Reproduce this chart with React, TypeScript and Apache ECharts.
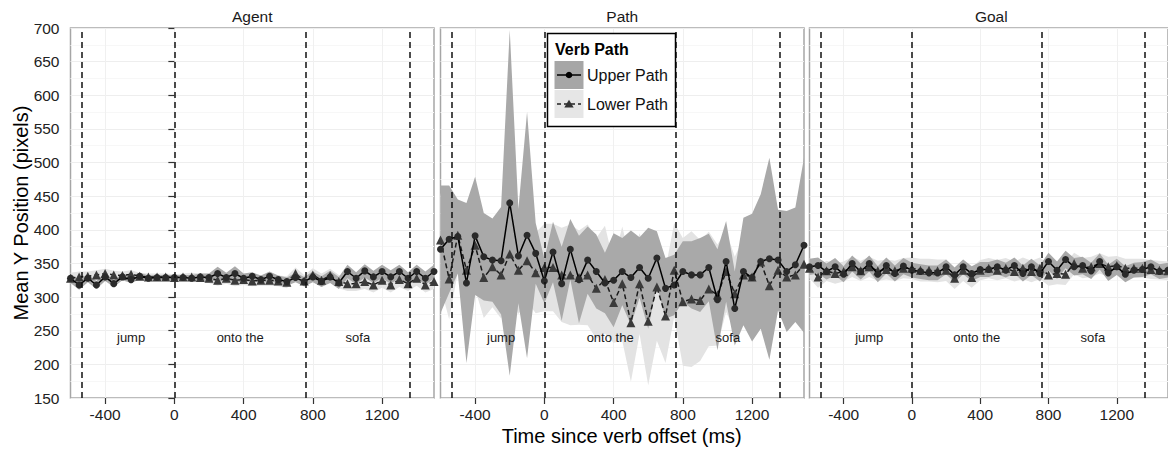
import React, { useEffect, useRef } from 'react';
import * as echarts from 'echarts';

// ---------------- data ----------------
const times = [-600, -550, -500, -450, -400, -350, -300, -250, -200, -150, -100, -50, 0, 50, 100, 150, 200, 250, 300, 350, 400, 450, 500, 550, 600, 650, 700, 750, 800, 850, 900, 950, 1000, 1050, 1100, 1150, 1200, 1250, 1300, 1350, 1400, 1450, 1500];

const panelNames = ['Agent', 'Path', 'Goal'];
const seriesNames = ['Upper Path', 'Lower Path'];

const agentUpperMean = [328, 318, 328, 318, 330, 320, 330, 326, 331, 328, 329, 329, 329, 329, 328, 330, 329, 335, 329, 335, 328, 331, 326, 331, 326, 323, 329, 323, 330, 323, 330, 321, 338, 328, 339, 330, 338, 330, 338, 328, 338, 328, 338];
const agentUpperCI = [7, 7, 6, 6, 6, 5, 5, 5, 5, 4, 4, 4, 4, 4, 5, 5, 6, 10, 7, 11, 7, 6, 6, 7, 6, 6, 7, 7, 8, 8, 9, 9, 10, 9, 10, 9, 10, 10, 10, 9, 10, 10, 10];
const agentLowerMean = [328, 330, 331, 333, 335, 333, 332, 334, 331, 330, 330, 330, 329, 330, 330, 329, 328, 325, 328, 325, 326, 324, 325, 325, 324, 322, 335, 324, 333, 325, 332, 323, 320, 320, 323, 318, 325, 318, 326, 320, 328, 318, 323];
const agentLowerCI = [8, 8, 7, 7, 7, 6, 6, 6, 5, 5, 5, 5, 5, 5, 6, 6, 7, 8, 8, 9, 8, 8, 8, 8, 8, 9, 9, 9, 10, 10, 10, 10, 11, 11, 11, 11, 11, 11, 11, 11, 11, 11, 11];

const pathUpperMean = [371, 386, 390, 321, 391, 360, 355, 354, 440, 361, 392, 365, 324, 367, 320, 371, 326, 355, 338, 321, 325, 338, 329, 344, 328, 358, 313, 318, 338, 333, 333, 344, 296, 353, 283, 338, 329, 353, 357, 355, 338, 348, 377];
const pathUpperCI = [95, 80, 55, 119, 88, 65, 62, 80, 257, 70, 183, 45, 33, 45, 55, 45, 65, 50, 55, 45, 70, 50, 70, 45, 75, 40, 45, 45, 45, 50, 55, 50, 75, 60, 55, 80, 95, 100, 150, 75, 90, 85, 130];
const pathLowerMean = [385, 327, 392, 340, 377, 329, 345, 333, 364, 340, 354, 336, 344, 344, 333, 333, 329, 333, 313, 326, 292, 320, 262, 320, 264, 315, 272, 340, 293, 297, 295, 312, 303, 338, 305, 333, 330, 352, 317, 340, 330, 333, 349];
const pathLowerCI = [70, 60, 55, 60, 65, 60, 60, 65, 60, 65, 60, 60, 65, 65, 70, 75, 70, 75, 75, 80, 60, 85, 88, 75, 95, 80, 70, 70, 95, 101, 90, 85, 75, 60, 55, 55, 50, 55, 50, 55, 50, 50, 50];

const goalUpperMean = [345, 347, 338, 345, 334, 350, 338, 350, 334, 347, 335, 346, 340, 338, 336, 336, 345, 333, 345, 335, 341, 341, 345, 340, 347, 335, 345, 335, 353, 340, 356, 345, 347, 339, 353, 336, 345, 334, 340, 341, 345, 338, 340];
const goalUpperCI = [12, 12, 12, 13, 12, 12, 12, 12, 12, 12, 12, 12, 11, 11, 11, 11, 11, 11, 11, 11, 11, 11, 11, 11, 12, 12, 12, 12, 13, 13, 13, 13, 13, 12, 12, 12, 12, 12, 11, 11, 11, 11, 11];
const goalLowerMean = [343, 330, 339, 335, 338, 345, 339, 345, 339, 341, 339, 343, 343, 340, 340, 339, 340, 328, 340, 329, 340, 343, 340, 343, 338, 343, 338, 343, 333, 335, 334, 350, 343, 345, 350, 345, 347, 343, 343, 343, 341, 340, 339];
const goalLowerCI = [15, 16, 15, 15, 15, 15, 15, 15, 15, 15, 15, 15, 16, 17, 17, 17, 16, 16, 16, 15, 15, 15, 15, 15, 15, 16, 16, 16, 16, 16, 16, 16, 15, 15, 15, 15, 14, 14, 14, 14, 14, 14, 14];

const vLines = [-535, 0, 760, 1362];
const wordLabels = ['jump', 'onto the', 'sofa'];
const wordX = [-250, 380, 1060];
const wordY = 240;
const xTicks = [-400, 0, 400, 800, 1200];

// ---------------- layout / style ----------------
const FONT = '"Liberation Sans", Arial, Helvetica, sans-serif';
const GRID_LEFT = [70.5, 440.5, 809.5];
const GRID_W = 363.5;
const GRID_TOP = 28;
const GRID_H = 370;
const DARK = '#a9a9a9';
const LIGHT = '#e3e3e3';

const panels = [
  { upper: agentUpperMean, upperCI: agentUpperCI, lower: agentLowerMean, lowerCI: agentLowerCI },
  { upper: pathUpperMean, upperCI: pathUpperCI, lower: pathLowerMean, lowerCI: pathLowerCI },
  { upper: goalUpperMean, upperCI: goalUpperCI, lower: goalLowerMean, lowerCI: goalLowerCI },
];

function ribbon(i: number, mean: number[], ci: number[], color: string) {
  return {
    type: 'custom',
    xAxisIndex: i,
    yAxisIndex: i,
    silent: true,
    z: 1,
    data: [[0, 400]],
    renderItem: (_params: any, api: any) => {
      const pts: number[][] = [];
      for (let k = 0; k < times.length; k++) pts.push(api.coord([times[k], Math.min(700, mean[k] + ci[k])]));
      for (let k = times.length - 1; k >= 0; k--) pts.push(api.coord([times[k], Math.max(150, mean[k] - ci[k])]));
      return { type: 'polygon', shape: { points: pts }, style: { fill: color } };
    },
  };
}

export default function App() {
  const ref = useRef<HTMLDivElement>(null);

  useEffect(() => {
    if (!ref.current) return;
    const chart = echarts.init(ref.current, undefined, { renderer: 'svg' });

    const series: any[] = [];
    panels.forEach((p, i) => {
      series.push(ribbon(i, p.lower, p.lowerCI, LIGHT));
      series.push(ribbon(i, p.upper, p.upperCI, DARK));
      series.push({
        type: 'line',
        name: seriesNames[1],
        xAxisIndex: i,
        yAxisIndex: i,
        data: times.map((t, k) => [t, p.lower[k]]),
        symbol: 'triangle',
        symbolSize: 9,
        itemStyle: { color: '#3a3a3a' },
        lineStyle: { color: '#1a1a1a', width: 1.5, type: [5, 3] },
        z: 3,
        silent: true,
      });
      series.push({
        type: 'line',
        name: seriesNames[0],
        xAxisIndex: i,
        yAxisIndex: i,
        data: times.map((t, k) => [t, p.upper[k]]),
        symbol: 'circle',
        symbolSize: 7,
        itemStyle: { color: '#2a2a2a' },
        lineStyle: { color: '#000', width: 1.5 },
        z: 4,
        silent: true,
        markLine: {
          silent: true,
          symbol: ['none', 'none'],
          label: { show: false },
          lineStyle: { color: '#111', type: [6, 4], width: 1.5 },
          data: vLines.map((v) => ({ xAxis: v })),
        },
      });
      series.push({
        type: 'scatter',
        xAxisIndex: i,
        yAxisIndex: i,
        symbolSize: 1,
        silent: true,
        z: 5,
        itemStyle: { color: 'rgba(0,0,0,0)' },
        label: {
          show: true,
          position: 'inside',
          formatter: '{b}',
          fontSize: 13,
          fontFamily: FONT,
          color: '#1a1a1a',
          opacity: 1,
        },
        data: wordX.map((x, k) => ({ name: wordLabels[k], value: [x, wordY] })),
      });
    });

    const txt = (text: string, x: number, y: number, size: number, extra: any = {}) => ({
      type: 'text',
      x,
      y,
      z: 10,
      silent: true,
      ...extra,
      style: {
        text,
        fill: extra.fill || '#1a1a1a',
        fontSize: size,
        fontFamily: FONT,
        fontWeight: extra.fontWeight || 'normal',
        align: extra.align || 'center',
        textAlign: extra.align || 'center',
        verticalAlign: 'middle',
        textVerticalAlign: 'middle',
      },
    });

    const graphic: any[] = [];
    panelNames.forEach((n, i) => {
      graphic.push(txt(n, GRID_LEFT[i] + GRID_W / 2, 16.5, 15.5));
    });
    graphic.push(txt('Mean Y Position (pixels)', 20.5, 213, 20, { rotation: Math.PI / 2, fill: '#000' }));
    graphic.push(txt('Time since verb offset (ms)', 621.7, 436, 20, { fill: '#000' }));

    // legend
    graphic.push({ type: 'rect', z: 10, silent: true, shape: { x: 547.5, y: 33.5, width: 128, height: 93 }, style: { fill: '#fff', stroke: '#000', lineWidth: 1.5 } });
    graphic.push(txt('Verb Path', 555, 49.5, 16, { align: 'left', fontWeight: 'bold', fill: '#000' }));
    graphic.push({ type: 'rect', z: 10, silent: true, shape: { x: 554.5, y: 61, width: 29, height: 28 }, style: { fill: '#a6a6a6' } });
    graphic.push({ type: 'rect', z: 10, silent: true, shape: { x: 554.5, y: 90, width: 29, height: 28 }, style: { fill: '#e6e6e6' } });
    graphic.push({ type: 'line', z: 11, silent: true, shape: { x1: 557, y1: 75, x2: 581, y2: 75 }, style: { stroke: '#000', lineWidth: 1.5 } });
    graphic.push({ type: 'circle', z: 11, silent: true, shape: { cx: 569, cy: 75, r: 3.3 }, style: { fill: '#000' } });
    graphic.push({ type: 'line', z: 11, silent: true, shape: { x1: 557, y1: 104, x2: 581, y2: 104 }, style: { stroke: '#222', lineWidth: 1.5, lineDash: [4, 3] } });
    graphic.push({ type: 'polygon', z: 11, silent: true, shape: { points: [[564.3, 107.5], [573.7, 107.5], [569, 99.8]] }, style: { fill: '#333' } });
    graphic.push(txt(seriesNames[0], 587, 75.5, 16, { align: 'left', fill: '#111' }));
    graphic.push(txt(seriesNames[1], 587, 104.5, 16, { align: 'left', fill: '#111' }));

    chart.setOption({
      animation: false,
      backgroundColor: '#fff',
      grid: GRID_LEFT.map((l) => ({
        left: l,
        top: GRID_TOP,
        width: GRID_W,
        height: GRID_H,
        show: true,
        backgroundColor: '#fff',
        borderColor: '#a6a6a6',
        borderWidth: 1.5,
      })),
      xAxis: GRID_LEFT.map((_, i) => ({
        type: 'value',
        gridIndex: i,
        min: -600,
        max: 1500,
        interval: 200,
        axisLine: { show: false },
        axisTick: { show: true, customValues: xTicks, length: 6, lineStyle: { color: '#333', width: 1.2 } },
        axisLabel: {
          customValues: xTicks,
          margin: 8,
          fontSize: 15.5,
          color: '#222',
          fontFamily: FONT,
          formatter: (v: number) => String(v),
        },
        splitLine: { show: true, lineStyle: { color: '#f0f0f0', width: 1 } },
      })),
      yAxis: GRID_LEFT.map((_, i) => ({
        type: 'value',
        gridIndex: i,
        min: 150,
        max: 700,
        interval: 50,
        axisLine: { show: false },
        axisTick: { show: i === 0, length: 6, lineStyle: { color: '#333', width: 1.2 } },
        axisLabel: {
          show: i === 0,
          margin: 11,
          fontSize: 15.5,
          color: '#222',
          fontFamily: FONT,
          formatter: (v: number) => String(v),
        },
        splitLine: { show: true, lineStyle: { color: '#eeeeee', width: 1 } },
        minorTick: { show: false, splitNumber: 2 },
        minorSplitLine: { show: true, lineStyle: { color: '#f7f7f7', width: 1 } },
      })),
      series,
      graphic,
    });

    return () => chart.dispose();
  }, []);

  return (
    <div
      ref={ref}
      style={{ position: 'fixed', left: 0, top: 0, width: 1168, height: 453, background: '#fff' }}
    />
  );
}
